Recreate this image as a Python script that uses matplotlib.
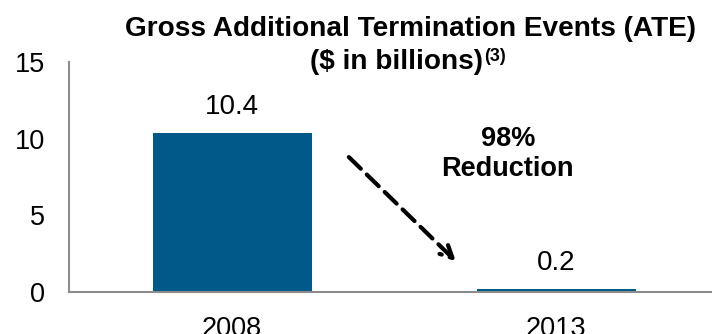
import matplotlib.pyplot as plt

plt.rcParams['font.family'] = ['Liberation Sans', 'DejaVu Sans']

years = ['2008', '2013']
ate = [10.4, 0.2]
yticks = [0, 5, 10, 15]

bar_color = '#01598a'
spine_color = '#8c8c8c'

fig = plt.figure(figsize=(7.12, 3.34), dpi=100)
ax = fig.add_axes([0.097, 0.126, 0.903, 0.688])

x = list(range(len(years)))
bars = ax.bar(x, ate, width=0.49, color=bar_color)
ax.bar_label(bars, labels=[f'{v:.1f}' for v in ate], padding=9, fontsize=20)

ax.set_xlim(-0.503, 1.48)
ax.set_ylim(0, 15)
ax.set_yticks(yticks)
ax.set_xticks(x)
ax.set_xticklabels(years)
ax.tick_params(axis='both', length=0, labelsize=19.5)
ax.tick_params(axis='y', pad=17)
ax.tick_params(axis='x', pad=17)

for side in ['top', 'right']:
    ax.spines[side].set_visible(False)
for side in ['left', 'bottom']:
    ax.spines[side].set_color(spine_color)
    ax.spines[side].set_linewidth(1.5)

# dashed arrow showing the drop
ax.annotate('', xy=(0.69, 2.0), xytext=(0.36, 8.8),
            arrowprops=dict(arrowstyle='->', color='black', lw=3.0,
                            linestyle=(0, (4, 2)), mutation_scale=22,
                            shrinkA=0, shrinkB=0))
ax.text(0.85, 9.95, '98%', ha='center', va='center', fontsize=19.5, fontweight='bold')
ax.text(0.85, 8.05, 'Reduction', ha='center', va='center', fontsize=19.5, fontweight='bold')

# title, two lines with a footnote marker
fig.text(0.577, 0.912, 'Gross Additional Termination Events (ATE)',
         ha='center', va='center', fontsize=20.2, fontweight='bold')
fig.text(0.679, 0.815, '($ in billions)', ha='right', va='center',
         fontsize=20.2, fontweight='bold')
fig.text(0.680, 0.83, '(3)', ha='left', va='center', fontsize=13, fontweight='bold')

fig.savefig('out.png', dpi=100)
